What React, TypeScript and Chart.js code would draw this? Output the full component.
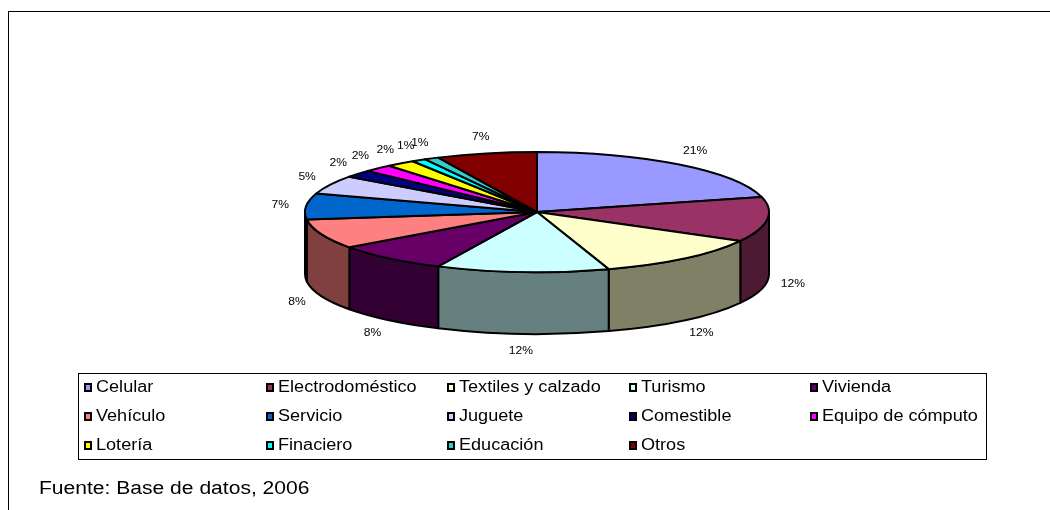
import React, { useEffect, useRef } from "react";
import { Chart, registerables } from "chart.js";

Chart.register(...registerables);

// ---- data ----
const categories = [
  "Celular",
  "Electrodoméstico",
  "Textiles y calzado",
  "Turismo",
  "Vivienda",
  "Vehículo",
  "Servicio",
  "Juguete",
  "Comestible",
  "Equipo de cómputo",
  "Lotería",
  "Finaciero",
  "Educación",
  "Otros",
];
const shares = [21, 12, 12, 12, 8, 8, 7, 5, 2, 2, 2, 1, 1, 7];
const sliceColors = [
  "#9999FF",
  "#993366",
  "#FFFFCC",
  "#CCFFFF",
  "#660066",
  "#FF8080",
  "#0066CC",
  "#CCCCFF",
  "#000080",
  "#FF00FF",
  "#FFFF00",
  "#00FFFF",
  "#33CCCC",
  "#800000",
];
const sourceNote = "Fuente: Base de datos, 2006";

const FONT = "'Liberation Sans', Arial, sans-serif";

function shade(hex: string, f: number): string {
  const h = hex.replace("#", "");
  const r = Math.round(parseInt(h.slice(0, 2), 16) * f);
  const g = Math.round(parseInt(h.slice(2, 4), 16) * f);
  const b = Math.round(parseInt(h.slice(4, 6), 16) * f);
  return `rgb(${r},${g},${b})`;
}

// Draws the pie's arcs (as computed by Chart.js) as an Excel-like 3D pie.
const pie3d = {
  id: "pie3d",
  beforeDatasetsDraw(chart: any, _args: any, opts: any) {
    const meta = chart.getDatasetMeta(0);
    const arcs = meta.data as any[];
    if (!arcs.length) return false;
    const ctx: CanvasRenderingContext2D = chart.ctx;
    const first = arcs[0];
    const cx = first.x;
    const cy = first.y;
    const rx = first.outerRadius;
    const ry = rx * opts.tilt;
    const depth = rx * opts.depth;
    const ds = chart.data.datasets[0];
    const colors = ds.backgroundColor as string[];
    const values = ds.data as number[];
    const total = values.reduce((a, b) => a + b, 0);

    ctx.save();
    ctx.lineWidth = opts.lineWidth;
    ctx.strokeStyle = "#000";
    ctx.lineJoin = "round";

    // outer side walls (front half only)
    arcs.forEach((arc, i) => {
      const vs = Math.max(arc.startAngle, 0);
      const ve = Math.min(arc.endAngle, Math.PI);
      if (ve <= vs) return;
      ctx.beginPath();
      ctx.ellipse(cx, cy, rx, ry, 0, vs, ve, false);
      ctx.lineTo(cx + rx * Math.cos(ve), cy + depth + ry * Math.sin(ve));
      ctx.ellipse(cx, cy + depth, rx, ry, 0, ve, vs, true);
      ctx.closePath();
      ctx.fillStyle = shade(colors[i], 0.5);
      ctx.fill();
      ctx.stroke();
    });

    // top faces
    arcs.forEach((arc, i) => {
      ctx.beginPath();
      ctx.moveTo(cx, cy);
      ctx.ellipse(cx, cy, rx, ry, 0, arc.startAngle, arc.endAngle, false);
      ctx.closePath();
      ctx.fillStyle = colors[i];
      ctx.fill();
      ctx.stroke();
    });

    // percentage labels
    ctx.fillStyle = "#000";
    ctx.font = `11px ${FONT}`;
    ctx.textAlign = "center";
    ctx.textBaseline = "middle";
    arcs.forEach((arc, i) => {
      const mid = (arc.startAngle + arc.endAngle) / 2;
      const s = Math.sin(mid);
      const c = Math.cos(mid);
      const lx = cx + (rx + opts.gapX) * c;
      const ly = cy + (ry + opts.gapY) * s + (s > 0 ? depth : 0);
      const txt = Math.round((values[i] / total) * 100) + "%";
      ctx.save();
      ctx.translate(lx, ly);
      ctx.scale(1.1, 1);
      ctx.fillText(txt, 0, 0);
      ctx.restore();
    });

    ctx.restore();
    return false;
  },
};

export default function App() {
  const canvasRef = useRef<HTMLCanvasElement | null>(null);

  useEffect(() => {
    const canvas = canvasRef.current;
    if (!canvas) return;
    const chart = new Chart(canvas, {
      type: "pie",
      data: {
        labels: categories,
        datasets: [
          {
            data: shares,
            backgroundColor: sliceColors,
            borderWidth: 0,
          },
        ],
      },
      options: {
        responsive: false,
        animation: false,
        events: [],
        layout: { padding: { top: 20, bottom: 66, left: 305, right: 281 } },
        plugins: {
          legend: { display: false },
          tooltip: { enabled: false },
          // @ts-ignore
          pie3d: { tilt: 0.259, depth: 0.267, lineWidth: 2, gapX: 26, gapY: 17 },
        },
      },
      plugins: [pie3d as any],
    });
    return () => chart.destroy();
  }, []);

  const colStep = 181.5;
  const rowStep = 29;

  return (
    <div
      style={{
        position: "fixed",
        left: 0,
        top: 0,
        width: 1050,
        height: 510,
        overflow: "hidden",
        background: "#fff",
        fontFamily: FONT,
        color: "#000",
      }}
    >
      <div
        style={{
          position: "absolute",
          left: 8,
          top: 11,
          width: 1200,
          height: 700,
          border: "1px solid #000",
        }}
      />
      <canvas
        ref={canvasRef}
        width={1050}
        height={550}
        style={{ position: "absolute", left: 0, top: -40, width: 1050, height: 550 }}
      />
      <div
        style={{
          position: "absolute",
          left: 78,
          top: 373,
          width: 909,
          height: 87,
          boxSizing: "border-box",
          border: "1px solid #000",
        }}
      />
      {categories.map((name, i) => {
        const r = Math.floor(i / 5);
        const c = i % 5;
        const mx = Math.round(84 + colStep * c);
        const baseline = 392 + rowStep * r;
        return (
          <React.Fragment key={name}>
            <div
              style={{
                position: "absolute",
                left: mx,
                top: baseline - 9,
                width: 8,
                height: 9,
                boxSizing: "border-box",
                border: "2px solid #000",
                background: sliceColors[i],
              }}
            />
            <div
              style={{
                position: "absolute",
                left: mx + 12,
                top: baseline - 14.5,
                fontSize: 16,
                lineHeight: "18px",
                whiteSpace: "nowrap",
                transform: "scaleX(1.13)",
                transformOrigin: "left center",
              }}
            >
              {name}
            </div>
          </React.Fragment>
        );
      })}
      <div
        style={{
          position: "absolute",
          left: 39,
          top: 478,
          fontSize: 18,
          lineHeight: "21px",
          whiteSpace: "nowrap",
          transform: "scaleX(1.17)",
          transformOrigin: "left center",
        }}
      >
        {sourceNote}
      </div>
    </div>
  );
}
